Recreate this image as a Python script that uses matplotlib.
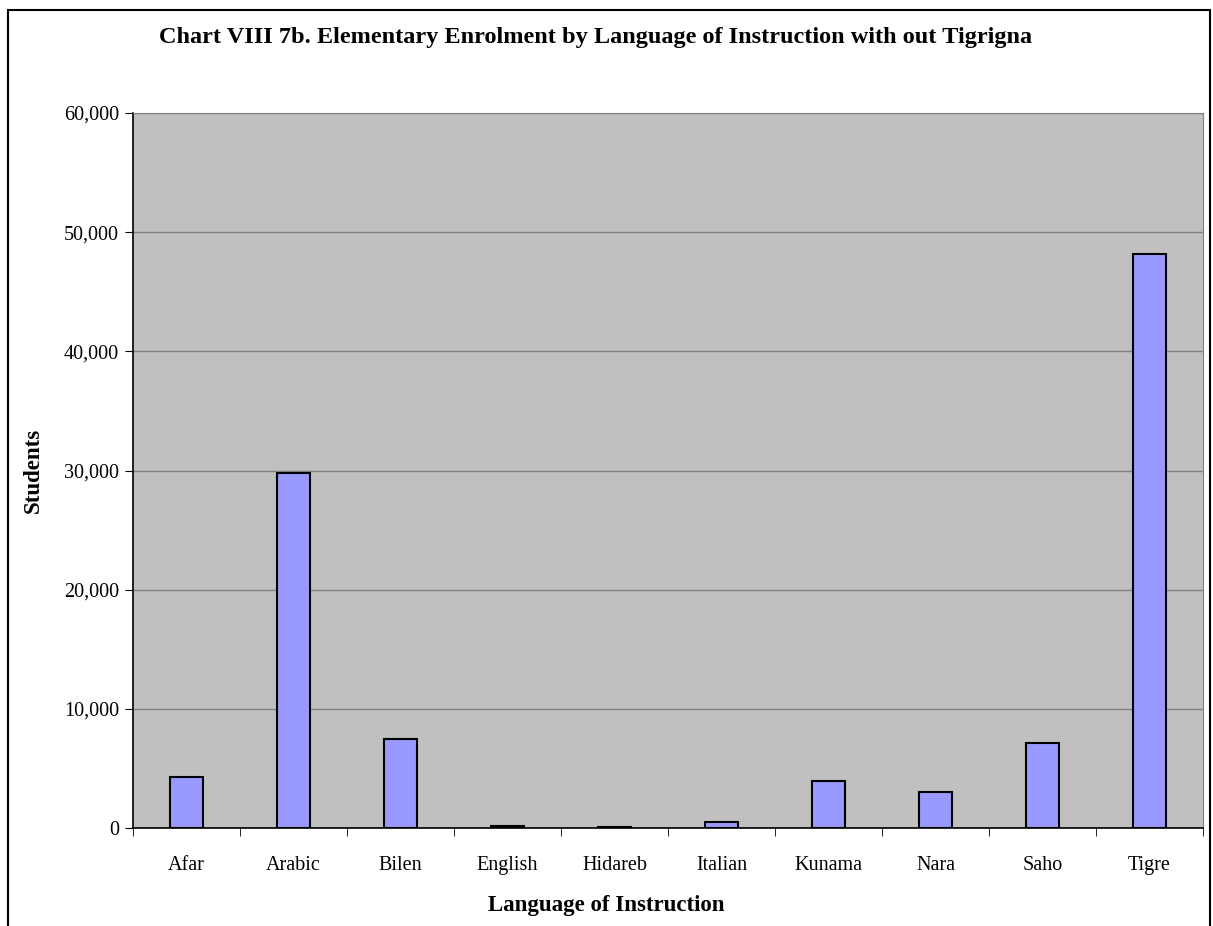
import numpy as np
import matplotlib.pyplot as plt
from matplotlib.patches import Rectangle
from matplotlib.ticker import FuncFormatter

languages = ['Afar', 'Arabic', 'Bilen', 'English', 'Hidareb', 'Italian',
             'Kunama', 'Nara', 'Saho', 'Tigre']
students = [4300, 29800, 7500, 200, 100, 500, 3950, 3050, 7100, 48200]

plt.rcParams['font.family'] = ['Liberation Serif', 'DejaVu Serif']

fig = plt.figure(figsize=(12.13, 9.26), dpi=100)
ax = fig.add_axes([0.1096, 0.1058, 0.8822, 0.7722])

x = np.arange(len(languages))
ax.bar(x, students, width=0.31, color='#9999FF', edgecolor='black', linewidth=1.5, zorder=3)

ax.set_facecolor('#C0C0C0')
ax.set_xlim(-0.5, len(languages) - 0.5)
ax.set_ylim(0, 60000)
ax.set_yticks(np.arange(0, 60001, 10000))
ax.yaxis.set_major_formatter(FuncFormatter(lambda v, p: f'{int(v):,}'))
ax.grid(axis='y', color='#808080', linewidth=1, zorder=1)

ax.set_xticks(x)
ax.set_xticklabels(languages)
ax.set_xticks(np.arange(-0.5, len(languages)), minor=True)
ax.tick_params(axis='x', which='major', length=0, pad=20, labelsize=14.5)
ax.tick_params(axis='x', which='minor', length=6, color='black', direction='out')
ax.tick_params(axis='y', length=6, labelsize=14.5, pad=4)

for s in ['top', 'right']:
    ax.spines[s].set_color('#808080')
for s in ['left', 'bottom']:
    ax.spines[s].set_color('black')
    ax.spines[s].set_linewidth(1.2)

ax.set_xlabel('Language of Instruction', fontsize=16.5, fontweight='bold')
ax.xaxis.set_label_coords((606 - 133) / 1070, -(895 - 828) / 715)
ax.set_ylabel('Students', fontsize=16.5, fontweight='bold')
ax.yaxis.set_label_coords(-(133 - 44) / 1070, 0.5)
fig.text(596 / 1213, 1 - 37 / 926, 'Chart VIII 7b. Elementary Enrolment by Language of Instruction with out Tigrigna',
         ha='center', va='center', fontsize=17.5, fontweight='bold')

fig.patches.append(Rectangle((8 / 1213, -0.1), (1210 - 8) / 1213, 1.1 - 10 / 926,
                             transform=fig.transFigure, fill=False, edgecolor='black', linewidth=1.5))

fig.savefig('out.png', dpi=100)
